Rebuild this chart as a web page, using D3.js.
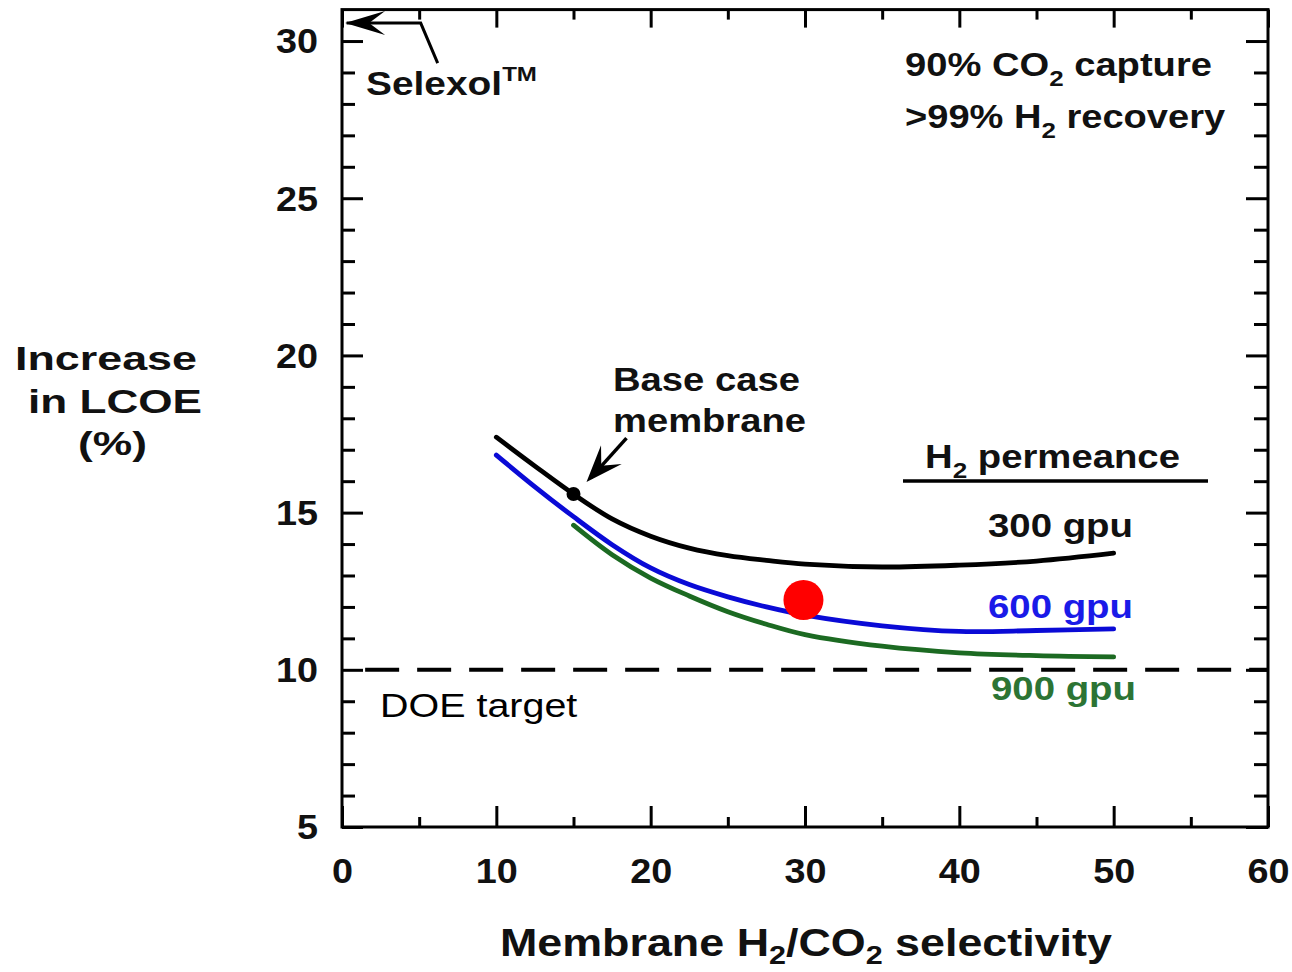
<!DOCTYPE html>
<html><head><meta charset="utf-8">
<script src="https://cdn.jsdelivr.net/npm/d3@7/dist/d3.min.js"></script>
<style>html,body{margin:0;padding:0;background:#fff;} svg{display:block;}</style>
</head><body>
<svg id="c" width="1292" height="972"></svg>
<script>
// ---- data ----
const selectivity = [10, 12.5, 15, 17.5, 20, 22.5, 25, 27.5, 30, 35, 40, 45, 50];
const gpu300 = [17.40, 16.48, 15.59, 14.80, 14.25, 13.87, 13.63, 13.48, 13.36, 13.27, 13.33, 13.46, 13.71];
const gpu600 = [16.83, 15.82, 14.87, 13.98, 13.24, 12.71, 12.32, 12.00, 11.74, 11.40, 11.22, 11.25, 11.30];
const gpu900 = [null, null, 14.60, 13.66, 12.92, 12.35, 11.85, 11.45, 11.12, 10.75, 10.54, 10.45, 10.41];
const baseCase = [15, 15.59];
const redPoint = [29.9, 12.22];
const doeTarget = 10;
const selexolValue = 30.57;
const xMajor = [0, 10, 20, 30, 40, 50, 60];
const xMinor = [5, 15, 25, 35, 45, 55];
const yMajor = [5, 10, 15, 20, 25, 30];
const yMinor = [6,7,8,9,11,12,13,14,16,17,18,19,21,22,23,24,26,27,28,29];

const FONT = '"Liberation Sans", Arial, sans-serif';
const svg = d3.select('#c');
const L = 342, R = 1268, T = 9.6, B = 827;
const x = d3.scaleLinear().domain([0, 60]).range([L, R]);
const y = d3.scaleLinear().domain([5, 31]).range([B, T]);

function styleAxis(g, fs) {
  g.select('.domain').remove();
  g.selectAll('line').attr('stroke', '#000').attr('stroke-width', 3);
  g.selectAll('text').attr('font-family', FONT).attr('font-weight', 'bold')
    .attr('font-size', fs).attr('fill', '#111');
}

// bottom axis
const gb = svg.append('g').attr('transform', `translate(0,${B})`)
  .call(d3.axisBottom(x).tickValues(xMajor).tickSize(-21).tickSizeOuter(0).tickPadding(31).tickFormat(d3.format('d')));
styleAxis(gb, 35);
gb.selectAll('text').attr('transform', 'scale(1.08,1)');
svg.append('g').attr('transform', `translate(0,${B})`)
  .call(d3.axisBottom(x).tickValues(xMinor).tickSize(-10).tickSizeOuter(0).tickFormat(''))
  .call(g => styleAxis(g, 35));
// top axis
svg.append('g').attr('transform', `translate(0,${T})`)
  .call(d3.axisTop(x).tickValues(xMajor).tickSize(-18).tickSizeOuter(0).tickFormat(''))
  .call(g => styleAxis(g, 35));
svg.append('g').attr('transform', `translate(0,${T})`)
  .call(d3.axisTop(x).tickValues(xMinor).tickSize(-10).tickSizeOuter(0).tickFormat(''))
  .call(g => styleAxis(g, 35));
// left axis
const gl = svg.append('g').attr('transform', `translate(${L},0)`)
  .call(d3.axisLeft(y).tickValues(yMajor).tickSize(-21).tickSizeOuter(0).tickPadding(24).tickFormat(d3.format('d')));
styleAxis(gl, 35);
gl.selectAll('text').attr('dy', '0.34em').attr('x', -24 / 1.08).attr('transform', 'scale(1.08,1)');
svg.append('g').attr('transform', `translate(${L},0)`)
  .call(d3.axisLeft(y).tickValues(yMinor).tickSize(-13).tickSizeOuter(0).tickFormat(''))
  .call(g => styleAxis(g, 35));
// right axis
svg.append('g').attr('transform', `translate(${R},0)`)
  .call(d3.axisRight(y).tickValues(yMajor).tickSize(-22).tickSizeOuter(0).tickFormat(''))
  .call(g => styleAxis(g, 35));
svg.append('g').attr('transform', `translate(${R},0)`)
  .call(d3.axisRight(y).tickValues(yMinor).tickSize(-14).tickSizeOuter(0).tickFormat(''))
  .call(g => styleAxis(g, 35));

// frame
svg.append('rect').attr('x', L).attr('y', T).attr('width', R - L).attr('height', B - T)
  .attr('fill', 'none').attr('stroke', '#000').attr('stroke-width', 3);

// DOE target dashed line
svg.append('line').attr('x1', x(1.5)).attr('x2', x(60)).attr('y1', y(doeTarget)).attr('y2', y(doeTarget))
  .attr('stroke', '#000').attr('stroke-width', 4).attr('stroke-dasharray', '34,18');

// curves
const line = d3.line().defined(d => d[1] != null).x(d => x(d[0])).y(d => y(d[1]))
  .curve(d3.curveCatmullRom.alpha(0.5));
const series = [
  { vals: gpu300, color: '#000000' },
  { vals: gpu600, color: '#0a0ad6' },
  { vals: gpu900, color: '#1c6a22' }
];
series.forEach(s => {
  svg.append('path').datum(selectivity.map((v, i) => [v, s.vals[i]]))
    .attr('d', line).attr('fill', 'none').attr('stroke', s.color)
    .attr('stroke-width', 4.8).attr('stroke-linecap', 'round');
});

// base case point
svg.append('circle').attr('cx', x(baseCase[0])).attr('cy', y(baseCase[1])).attr('r', 7).attr('fill', '#000');
// red point
svg.append('circle').attr('cx', x(redPoint[0])).attr('cy', y(redPoint[1])).attr('r', 20).attr('fill', '#ff0000');

// arrows
function dart(tx, ty, angle, len, half, notch) {
  const ca = Math.cos(angle), sa = Math.sin(angle);
  const bx = tx - ca * len, by = ty - sa * len;
  const p1 = [bx - sa * half, by + ca * half];
  const p2 = [bx + sa * half, by - ca * half];
  const n = [tx - ca * notch, ty - sa * notch];
  return `M${tx},${ty}L${p1[0]},${p1[1]}L${n[0]},${n[1]}L${p2[0]},${p2[1]}Z`;
}
// Selexol arrow
const sy = y(selexolValue);
svg.append('path').attr('d', `M${x(0.3)},${sy}L${x(5.1)},${sy}L${x(6.2)},${sy + 40}`)
  .attr('fill', 'none').attr('stroke', '#000').attr('stroke-width', 3);
svg.append('path').attr('d', dart(x(0.2), sy, Math.PI, 40, 12, 24)).attr('fill', '#000');
// base case arrow
const bcx = x(baseCase[0]) + 13, bcy = y(baseCase[1]) - 12;
svg.append('path').attr('d', `M${bcx + 40},${bcy - 44}L${bcx + 4},${bcy - 4}`)
  .attr('fill', 'none').attr('stroke', '#000').attr('stroke-width', 3.5);
svg.append('path').attr('d', dart(bcx, bcy, Math.atan2(44, -40), 37, 14, 22)).attr('fill', '#000');

// H2 permeance underline
svg.append('line').attr('x1', 903).attr('x2', 1208).attr('y1', 481).attr('y2', 481)
  .attr('stroke', '#000').attr('stroke-width', 3.5);

// text helper: parts = [[text, 'n'|'sub'|'sup'], ...]
function label(px, py, parts, opts) {
  const fs = opts.fs, anchor = opts.anchor || 'start';
  const g = svg.append('g').attr('transform', `translate(${px},${py})`);
  const t = g.append('text').attr('font-family', FONT).attr('font-weight', opts.weight || 'bold')
    .attr('font-size', fs).attr('fill', opts.color || '#111').attr('text-anchor', anchor);
  let shift = 0;
  parts.forEach(([s, kind]) => {
    let target = 0, size = fs;
    if (kind === 'sub') { target = fs * (opts.subShift || 0.3); size = fs * 0.68; }
    if (kind === 'sup') { target = -fs * 0.42; size = fs * 0.62; }
    t.append('tspan').attr('font-size', size).attr('dy', target - shift).text(s);
    shift = target;
  });
  if (opts.width) {
    const w = t.node().getBBox().width;
    g.attr('transform', `translate(${px},${py}) scale(${opts.width / w},1)`);
  }
  return g;
}

label(366, 95, [['Selexol', 'n'], ['TM', 'sup']], { fs: 34, width: 171 });
label(905, 76, [['90% CO', 'n'], ['2', 'sub'], [' capture', 'n']], { fs: 33, width: 307 });
label(905, 128, [['>99% H', 'n'], ['2', 'sub'], [' recovery', 'n']], { fs: 33, width: 321 });
label(613, 391, [['Base case', 'n']], { fs: 34, width: 187 });
label(613, 432, [['membrane', 'n']], { fs: 34, width: 193 });
label(925, 468, [['H', 'n'], ['2', 'sub'], [' permeance', 'n']], { fs: 33, width: 255 });
label(988, 537, [['300 gpu', 'n']], { fs: 34, width: 145 });
label(988, 618, [['600 gpu', 'n']], { fs: 34, width: 145, color: '#1a1ae8' });
label(991, 700, [['900 gpu', 'n']], { fs: 34, width: 145, color: '#2c7434' });
label(380, 717, [['DOE target', 'n']], { fs: 34, width: 198, weight: 'normal', color: '#000' });
label(15, 370, [['Increase', 'n']], { fs: 34, width: 182 });
label(28, 413, [['in LCOE', 'n']], { fs: 34, width: 174 });
label(78, 455, [['(%)', 'n']], { fs: 34, width: 69 });
label(500, 956, [['Membrane H', 'n'], ['2', 'sub'], ['/CO', 'n'], ['2', 'sub'], [' selectivity', 'n']], { fs: 38, width: 612, subShift: 0.22 });
</script>
</body></html>
